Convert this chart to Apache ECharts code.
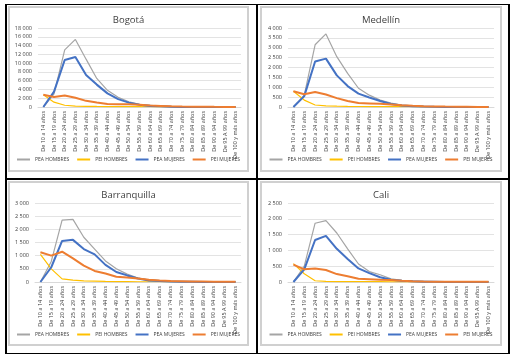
<!DOCTYPE html>
<html>
<head>
<meta charset="utf-8">
<script src="https://cdn.jsdelivr.net/npm/echarts@6/dist/echarts.min.js"></script>
<style>
  html, body { margin: 0; padding: 0; background: #fff; }
  .wrap { position: relative; width: 513px; height: 356px; overflow: hidden; }
  .line { position: absolute; background: #000; }
  .box { position: absolute; box-sizing: border-box; border: 2px solid #d0d0d0; background: #fff; }
  .box > div { width: 100%; height: 100%; }
</style>
</head>
<body>
<div class="wrap">
  <div class="line" style="left:5px;top:4px;width:505px;height:1px"></div>
  <div class="line" style="left:5px;top:353px;width:505px;height:1px"></div>
  <div class="line" style="left:5px;top:4px;width:2px;height:350px"></div>
  <div class="line" style="left:508px;top:4px;width:2px;height:350px"></div>
  <div class="line" style="left:256px;top:4px;width:2px;height:350px"></div>
  <div class="line" style="left:5px;top:178px;width:505px;height:2px"></div>

  <div class="box" style="left:8px;top:6px;width:241px;height:166px"><div id="c0"></div></div>
  <div class="box" style="left:260px;top:6px;width:242px;height:166px"><div id="c1"></div></div>
  <div class="box" style="left:8px;top:181px;width:241px;height:165px"><div id="c2"></div></div>
  <div class="box" style="left:260px;top:181px;width:242px;height:165px"><div id="c3"></div></div>
</div>
<script>
// grupos de edad
const ageGroups = [
  'De 10 a 14 años', 'De 15 a 19 años', 'De 20 a 24 años', 'De 25 a 29 años',
  'De 30 a 34 años', 'De 35 a 39 años', 'De 40 a 44 años', 'De 45 a 49 años',
  'De 50 a 54 años', 'De 55 a 59 años', 'De 60 a 64 años', 'De 65 a 69 años',
  'De 70 a 74 años', 'De 75 a 79 años', 'De 80 a 84 años', 'De 85 a 89 años',
  'De 90 a 94 años', 'De 95 A 99 años', 'De 100 y más años'
];

const seriesNames = ['PEA HOMBRES', 'PEI HOMBRES', 'PEA MUJERES', 'PEI MUJERES'];
const seriesColors = ['#a5a5a5', '#ffc000', '#4472c4', '#ed7d31'];
const seriesWidths = [1.2, 1.2, 2, 2];

// Bogotá
const bogotaPeaH = [0, 3000, 13000, 15400, 10900, 6500, 3800, 2200, 1200, 600, 400, 200, 100, 40, 20, 10, 5, 0, 0];
const bogotaPeiH = [2800, 1100, 400, 200, 150, 120, 100, 90, 80, 70, 60, 50, 40, 30, 20, 10, 5, 0, 0];
const bogotaPeaM = [0, 3500, 10700, 11400, 7300, 5100, 3100, 1800, 1000, 500, 250, 150, 50, 20, 10, 5, 0, 0, 0];
const bogotaPeiM = [2800, 2300, 2600, 2100, 1400, 1000, 700, 600, 600, 500, 350, 250, 150, 100, 80, 50, 30, 20, 10];

// Medellín
const medellinPeaH = [0, 600, 3150, 3700, 2550, 1700, 950, 600, 350, 200, 100, 60, 30, 15, 10, 5, 0, 0, 0];
const medellinPeiH = [800, 350, 100, 60, 40, 30, 25, 20, 20, 20, 15, 15, 10, 10, 5, 5, 0, 0, 0];
const medellinPeaM = [0, 550, 2300, 2450, 1600, 1060, 680, 480, 300, 150, 80, 40, 20, 10, 5, 0, 0, 0, 0];
const medellinPeiM = [800, 650, 760, 630, 450, 300, 200, 180, 160, 130, 90, 60, 40, 30, 20, 15, 10, 5, 5];

// Barranquilla
const barranquillaPeaH = [0, 780, 2350, 2380, 1700, 1250, 800, 500, 300, 150, 80, 50, 30, 15, 10, 5, 0, 0, 0];
const barranquillaPeiH = [1050, 500, 120, 70, 40, 30, 20, 15, 15, 10, 10, 10, 5, 5, 5, 0, 0, 0, 0];
const barranquillaPeaM = [0, 560, 1560, 1600, 1250, 1050, 650, 380, 250, 130, 60, 40, 20, 10, 5, 0, 0, 0, 0];
const barranquillaPeiM = [1130, 1000, 1150, 900, 620, 420, 320, 200, 170, 130, 90, 60, 40, 30, 20, 15, 10, 5, 5];

// Cali
const caliPeaH = [0, 500, 1860, 1940, 1550, 1050, 570, 330, 230, 100, 50, 30, 20, 10, 5, 0, 0, 0, 0];
const caliPeiH = [580, 260, 40, 20, 15, 10, 10, 10, 10, 5, 5, 5, 5, 0, 0, 0, 0, 0, 0];
const caliPeaM = [0, 400, 1330, 1460, 1050, 730, 430, 280, 150, 70, 40, 20, 10, 5, 0, 0, 0, 0, 0];
const caliPeiM = [550, 400, 430, 380, 250, 180, 100, 90, 70, 60, 40, 25, 15, 10, 10, 5, 5, 5, 5];

const panels = [
  { id: 'c0', title: 'Bogotá', max: 18000, step: 2000, grid: { left: 28, top: 20, width: 203, height: 79 },
    data: [bogotaPeaH, bogotaPeiH, bogotaPeaM, bogotaPeiM] },
  { id: 'c1', title: 'Medellín', max: 4000, step: 500, grid: { left: 26, top: 20, width: 206, height: 79 },
    data: [medellinPeaH, medellinPeiH, medellinPeaM, medellinPeiM] },
  { id: 'c2', title: 'Barranquilla', max: 3000, step: 500, grid: { left: 25, top: 20, width: 206, height: 79 },
    data: [barranquillaPeaH, barranquillaPeiH, barranquillaPeaM, barranquillaPeiM] },
  { id: 'c3', title: 'Cali', max: 2500, step: 500, grid: { left: 26, top: 20, width: 206, height: 79 },
    data: [caliPeaH, caliPeiH, caliPeaM, caliPeiM] },
];

const font = '"Open Sans", "Noto Sans", sans-serif';
const fmt = (v) => String(v).replace(/\B(?=(\d{3})+(?!\d))/g, ' ');

panels.forEach((p) => {
  const chart = echarts.init(document.getElementById(p.id), null, { renderer: 'canvas' });
  chart.setOption({
    animation: false,
    backgroundColor: '#fff',
    title: {
      text: p.title,
      left: 'center',
      top: 2,
      textStyle: { fontFamily: font, fontSize: 9.5, fontWeight: 'normal', color: '#404040' },
    },
    legend: {
      data: seriesNames,
      top: 149,
      left: 'center',
      width: 240,
      padding: 0,
      icon: 'rect',
      itemWidth: 13,
      itemHeight: 2,
      itemGap: 8,
      textStyle: { fontFamily: font, fontSize: 5, color: '#404040' },
    },
    grid: p.grid,
    xAxis: {
      type: 'category',
      data: ageGroups,
      boundaryGap: true,
      axisLine: { lineStyle: { color: '#d9d9d9' } },
      axisTick: { show: false },
      axisLabel: { rotate: 90, interval: 0, fontFamily: font, fontSize: 5.5, color: '#404040', margin: 4 },
    },
    yAxis: {
      type: 'value',
      min: 0,
      max: p.max,
      interval: p.step,
      axisLine: { show: false },
      axisTick: { show: false },
      splitLine: { lineStyle: { color: '#e3e3e3', width: 1 } },
      axisLabel: { fontFamily: font, fontSize: 5.5, color: '#404040', margin: 6, formatter: fmt },
    },
    series: seriesNames.map((name, i) => ({
      name,
      type: 'line',
      data: p.data[i],
      symbol: 'none',
      lineStyle: { color: seriesColors[i], width: seriesWidths[i] },
      itemStyle: { color: seriesColors[i] },
    })),
  });
});
</script>
</body>
</html>
